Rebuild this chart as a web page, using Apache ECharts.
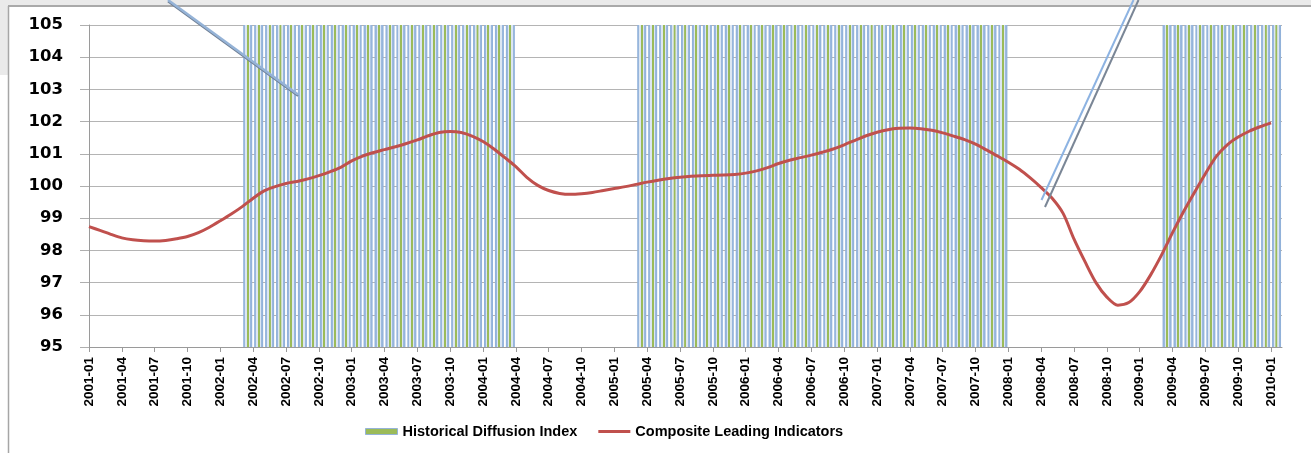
<!DOCTYPE html>
<html>
<head>
<meta charset="utf-8">
<script src="https://cdn.jsdelivr.net/npm/echarts@6/dist/echarts.min.js"></script>
<style>
html,body{margin:0;padding:0;background:#fff;}
#chart{width:1311px;height:453px;}
</style>
</head>
<body>
<div id="chart"></div>
<script>
// Monthly categories for the line axis (on tick marks)
const months = [
 '2001-01','2001-02','2001-03','2001-04','2001-05','2001-06','2001-07','2001-08','2001-09','2001-10','2001-11','2001-12',
 '2002-01','2002-02','2002-03','2002-04','2002-05','2002-06','2002-07','2002-08','2002-09','2002-10','2002-11','2002-12',
 '2003-01','2003-02','2003-03','2003-04','2003-05','2003-06','2003-07','2003-08','2003-09','2003-10','2003-11','2003-12',
 '2004-01','2004-02','2004-03','2004-04','2004-05','2004-06','2004-07','2004-08','2004-09','2004-10','2004-11','2004-12',
 '2005-01','2005-02','2005-03','2005-04','2005-05','2005-06','2005-07','2005-08','2005-09','2005-10','2005-11','2005-12',
 '2006-01','2006-02','2006-03','2006-04','2006-05','2006-06','2006-07','2006-08','2006-09','2006-10','2006-11','2006-12',
 '2007-01','2007-02','2007-03','2007-04','2007-05','2007-06','2007-07','2007-08','2007-09','2007-10','2007-11','2007-12',
 '2008-01','2008-02','2008-03','2008-04','2008-05','2008-06','2008-07','2008-08','2008-09','2008-10','2008-11','2008-12',
 '2009-01','2009-02','2009-03','2009-04','2009-05','2009-06','2009-07','2009-08','2009-09','2009-10','2009-11','2009-12',
 '2010-01','2010-02'
];

// Bar categories (between tick marks)
const barMonths = months.slice(0, 109);

// Historical Diffusion Index (shaded periods, top of scale)
const diffusion = [
 null,null,null,null,null,null,null,null,null,null,null,null,
 null,null,105,105,105,105,105,105,105,105,105,105,
 105,105,105,105,105,105,105,105,105,105,105,105,
 105,105,105,null,null,null,null,null,null,null,null,null,
 null,null,105,105,105,105,105,105,105,105,105,105,
 105,105,105,105,105,105,105,105,105,105,105,105,
 105,105,105,105,105,105,105,105,105,105,105,105,
 null,null,null,null,null,null,null,null,null,null,null,null,
 null,null,105,105,105,105,105,105,105,105,105,105,
 105
];

// Composite Leading Indicators
const cli = [
 98.74, 98.62, 98.50, 98.39, 98.33, 98.30, 98.29, 98.31, 98.36, 98.43, 98.55, 98.72,
 98.92, 99.13, 99.36, 99.62, 99.85, 99.98, 100.08, 100.14, 100.22, 100.32, 100.44, 100.58,
 100.78, 100.93, 101.04, 101.13, 101.22, 101.32, 101.43, 101.56, 101.66, 101.69, 101.66, 101.55,
 101.38, 101.15, 100.88, 100.60, 100.27, 100.02, 99.86, 99.77, 99.74, 99.76, 99.80, 99.86,
 99.92, 99.98, 100.05, 100.12, 100.18, 100.23, 100.27, 100.30, 100.32, 100.33, 100.34, 100.36,
 100.40, 100.47, 100.57, 100.70, 100.80, 100.88, 100.96, 101.05, 101.15, 101.28, 101.42, 101.56,
 101.67, 101.75, 101.79, 101.80, 101.78, 101.73, 101.65, 101.55, 101.44, 101.30, 101.12, 100.93,
 100.74, 100.52, 100.25, 99.95, 99.62, 99.15, 98.35, 97.65, 97.00, 96.55, 96.30, 96.38,
 96.72, 97.24, 97.86, 98.55, 99.20, 99.80, 100.38, 100.92, 101.28, 101.52, 101.70, 101.84,
 101.96, null
];

const yTicks = { min: 95, max: 105, interval: 1 };

const chart = echarts.init(document.getElementById('chart'), null, { renderer: 'canvas' });

const barFill = new echarts.graphic.LinearGradient(0, 0, 1, 0, [
  { offset: 0, color: '#8EAFD8' },
  { offset: 0.22, color: '#9DBADF' },
  { offset: 0.23, color: '#DCE6F2' },
  { offset: 0.38, color: '#DCE6F2' },
  { offset: 0.39, color: '#9BBB59' },
  { offset: 0.6, color: '#9BBB59' },
  { offset: 0.61, color: '#DCE6F2' },
  { offset: 0.76, color: '#DCE6F2' },
  { offset: 0.77, color: '#9DBADF' },
  { offset: 1, color: '#8EAFD8' }
]);

chart.setOption({
  animation: false,
  backgroundColor: '#ffffff',
  grid: { left: 89, right: 29, top: 25, bottom: 106, containLabel: false },
  xAxis: [
    {
      type: 'category',
      data: months,
      boundaryGap: false,
      axisLine: { show: true, lineStyle: { color: '#9A9A9A', width: 1 } },
      axisTick: { show: true, interval: 2, length: 5, lineStyle: { color: '#9A9A9A' } },
      axisLabel: {
        interval: 2, rotate: 90, margin: 10, color: '#000',
        fontFamily: 'Liberation Sans', fontWeight: 'bold', fontSize: 13.5
      },
      splitLine: { show: false }
    },
    {
      type: 'category',
      data: barMonths,
      boundaryGap: true,
      show: false
    }
  ],
  yAxis: {
    type: 'value',
    min: yTicks.min, max: yTicks.max, interval: yTicks.interval,
    axisLine: { show: true, lineStyle: { color: '#9A9A9A', width: 1 } },
    axisTick: { show: true, length: 9, lineStyle: { color: '#AFAFAF' } },
    axisLabel: {
      margin: 26, color: '#000', fontFamily: 'DejaVu Sans', fontWeight: 'bold', fontSize: 16.5
    },
    splitLine: { show: true, lineStyle: { color: '#B4B4B4', width: 1 } }
  },
  legend: {
    left: 365, top: 424, padding: 0,
    itemWidth: 32, itemHeight: 6, itemGap: 21,
    textStyle: { fontFamily: 'Liberation Sans', fontWeight: 'bold', fontSize: 14.5, color: '#000' },
    data: [
      { name: 'Historical Diffusion Index', icon: 'rect',
        itemStyle: { color: '#9BBB59', borderColor: '#95B3D7', borderWidth: 1 } },
      { name: 'Composite Leading Indicators', icon: 'path://M0,0 L32,0 L32,3 L0,3 Z',
        itemStyle: { color: '#C0504D', borderWidth: 0 } }
    ]
  },
  series: [
    {
      name: 'Historical Diffusion Index',
      type: 'bar',
      xAxisIndex: 1,
      data: diffusion,
      barWidth: 9,
      itemStyle: { color: barFill },
      z: 1
    },
    {
      name: 'Composite Leading Indicators',
      type: 'line',
      xAxisIndex: 0,
      data: cli,
      smooth: 0.3,
      symbol: 'none',
      lineStyle: { color: '#C0504D', width: 3 },
      itemStyle: { color: '#C0504D' },
      z: 5
    }
  ],
  graphic: [
    { type: 'rect', shape: { x: 0, y: 0, width: 1311, height: 5 }, style: { fill: '#EAEAEA' }, z: 20 },
    { type: 'rect', shape: { x: 0, y: 0, width: 8, height: 75 }, style: { fill: '#EAEAEA' }, z: 20 },
    { type: 'line', shape: { x1: 8, y1: 6, x2: 1311, y2: 6 }, style: { stroke: '#8C8C8C', lineWidth: 1.5 }, z: 21 },
    { type: 'line', shape: { x1: 8.5, y1: 6, x2: 8.5, y2: 453 }, style: { stroke: '#A6A6A6', lineWidth: 1.5 }, z: 21 },
    // annotation strokes
    { type: 'line', shape: { x1: 168, y1: 1.5, x2: 298, y2: 96 }, style: { stroke: '#6F7F95', lineWidth: 2 }, z: 22 },
    { type: 'line', shape: { x1: 168, y1: 0, x2: 298, y2: 94.5 }, style: { stroke: '#95B3D7', lineWidth: 2.5 }, z: 23 },
    { type: 'line', shape: { x1: 1133.5, y1: 0, x2: 1041.5, y2: 200 }, style: { stroke: '#8DB3E2', lineWidth: 2 }, z: 22 },
    { type: 'line', shape: { x1: 1138.5, y1: 0, x2: 1045, y2: 207 }, style: { stroke: '#7A8696', lineWidth: 2 }, z: 22 }
  ]
});
</script>
</body>
</html>
